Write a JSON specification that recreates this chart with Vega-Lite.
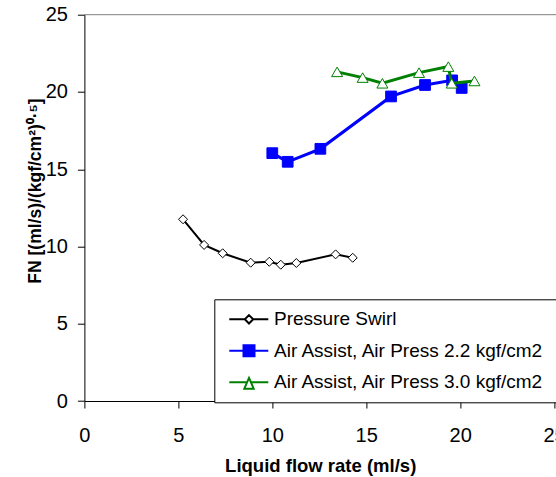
{
  "$schema": "https://vega.github.io/schema/vega-lite/v6.json",
  "width": 471.6,
  "height": 386.3,
  "autosize": {"type": "none"},
  "padding": {"left": 84.4, "top": 14.7, "right": 0, "bottom": 76},
  "background": "white",
  "config": {"view": {"stroke": null}, "font": "Liberation Sans"},
  "data": {
    "values": [
      {"series": "Pressure Swirl", "flow": 5.25, "fn": 11.76},
      {"series": "Pressure Swirl", "flow": 6.37, "fn": 10.10},
      {"series": "Pressure Swirl", "flow": 7.36, "fn": 9.56},
      {"series": "Pressure Swirl", "flow": 8.85, "fn": 8.95},
      {"series": "Pressure Swirl", "flow": 9.84, "fn": 9.01},
      {"series": "Pressure Swirl", "flow": 10.45, "fn": 8.82},
      {"series": "Pressure Swirl", "flow": 11.28, "fn": 8.93},
      {"series": "Pressure Swirl", "flow": 13.37, "fn": 9.49},
      {"series": "Pressure Swirl", "flow": 14.28, "fn": 9.27},
      {"series": "Air Assist, Air Press 2.2 kgf/cm2", "flow": 10.00, "fn": 16.04},
      {"series": "Air Assist, Air Press 2.2 kgf/cm2", "flow": 10.82, "fn": 15.48},
      {"series": "Air Assist, Air Press 2.2 kgf/cm2", "flow": 12.56, "fn": 16.32},
      {"series": "Air Assist, Air Press 2.2 kgf/cm2", "flow": 16.32, "fn": 19.71},
      {"series": "Air Assist, Air Press 2.2 kgf/cm2", "flow": 18.13, "fn": 20.45},
      {"series": "Air Assist, Air Press 2.2 kgf/cm2", "flow": 19.57, "fn": 20.75},
      {"series": "Air Assist, Air Press 2.2 kgf/cm2", "flow": 20.08, "fn": 20.26},
      {"series": "Air Assist, Air Press 3.0 kgf/cm2", "flow": 13.45, "fn": 21.30},
      {"series": "Air Assist, Air Press 3.0 kgf/cm2", "flow": 14.81, "fn": 20.93},
      {"series": "Air Assist, Air Press 3.0 kgf/cm2", "flow": 15.86, "fn": 20.56},
      {"series": "Air Assist, Air Press 3.0 kgf/cm2", "flow": 17.81, "fn": 21.25},
      {"series": "Air Assist, Air Press 3.0 kgf/cm2", "flow": 19.37, "fn": 21.64},
      {"series": "Air Assist, Air Press 3.0 kgf/cm2", "flow": 19.55, "fn": 20.56},
      {"series": "Air Assist, Air Press 3.0 kgf/cm2", "flow": 20.76, "fn": 20.71}
    ]
  },
  "layer": [
    {
      "data": {"values": [{"top": 25}]},
      "mark": {"type": "rule", "color": "#808080", "strokeWidth": 1},
      "encoding": {
        "y": {"field": "top", "type": "quantitative", "scale": {"domain": [0, 25], "nice": false}}
      }
    },
    {
      "encoding": {
        "x": {
          "field": "flow",
          "type": "quantitative",
          "scale": {"domain": [0, 25.1], "nice": false},
          "axis": {
            "title": "Liquid flow rate (ml/s)",
            "values": [0, 5, 10, 15, 20, 25],
            "grid": false,
            "domainColor": "black",
            "tickColor": "black",
            "tickSize": 7,
            "labelFont": "Liberation Sans",
            "labelFontSize": 20,
            "labelColor": "black",
            "labelBaseline": "alphabetic",
            "labelPadding": 33,
            "labelFlush": false,
            "labelOverlap": false,
            "titleFont": "Liberation Sans",
            "titleFontSize": 18.5,
            "titleFontWeight": "bold",
            "titleColor": "black",
            "titleBaseline": "alphabetic",
            "titleY": 70.5
          }
        },
        "y": {
          "field": "fn",
          "type": "quantitative",
          "scale": {"domain": [0, 25], "nice": false},
          "axis": {
            "title": "FN [(ml/s)/(kgf/cm²)⁰·⁵]",
            "values": [0, 5, 10, 15, 20, 25],
            "grid": false,
            "domainColor": "black",
            "tickColor": "black",
            "tickSize": 7,
            "labelFont": "Liberation Sans",
            "labelFontSize": 20,
            "labelColor": "black",
            "labelBaseline": "middle",
            "labelPadding": 10,
            "titleFont": "Liberation Sans",
            "titleFontSize": 17.5,
            "titleFontWeight": "bold",
            "titleColor": "black",
            "titleAngle": -90,
            "titleAlign": "center",
            "titleBaseline": "alphabetic",
            "titleX": -44.4,
            "titleY": 175.8
          }
        }
      },
      "layer": [
        {
          "transform": [{"filter": "datum.series === 'Pressure Swirl'"}],
          "mark": {"type": "line", "strokeWidth": 2},
          "encoding": {
            "stroke": {
              "field": "series",
              "type": "nominal",
              "scale": {
                "domain": ["Pressure Swirl", "Air Assist, Air Press 2.2 kgf/cm2", "Air Assist, Air Press 3.0 kgf/cm2"],
                "range": ["#000000", "#0000FF", "#008000"]
              }
            }
          }
        },
        {
          "transform": [{"filter": "datum.series === 'Pressure Swirl'"}],
          "mark": {"type": "point", "shape": "diamond", "size": 81, "filled": true, "fill": "#FFFFFF", "stroke": "#000000", "strokeWidth": 1, "opacity": 1}
        },
        {
          "transform": [{"filter": "datum.series === 'Air Assist, Air Press 2.2 kgf/cm2'"}],
          "mark": {"type": "line", "strokeWidth": 3},
          "encoding": {"stroke": {"field": "series", "type": "nominal"}}
        },
        {
          "transform": [{"filter": "datum.series === 'Air Assist, Air Press 2.2 kgf/cm2'"}],
          "mark": {"type": "point", "shape": "square", "size": 115, "filled": true, "fill": "#0000FF", "stroke": "#0000FF", "strokeWidth": 1, "opacity": 1}
        },
        {
          "transform": [{"filter": "datum.series === 'Air Assist, Air Press 3.0 kgf/cm2'"}],
          "mark": {"type": "line", "strokeWidth": 3},
          "encoding": {"stroke": {"field": "series", "type": "nominal"}}
        },
        {
          "transform": [{"filter": "datum.series === 'Air Assist, Air Press 3.0 kgf/cm2'"}],
          "mark": {"type": "point", "shape": "triangle-up", "size": 121, "filled": true, "fill": "#FFFFFF", "stroke": "#008000", "strokeWidth": 1, "opacity": 1}
        },
        {
          "mark": {"type": "point", "opacity": 0, "size": 1},
          "encoding": {
            "shape": {
              "field": "series",
              "type": "nominal",
              "scale": {
                "domain": ["Pressure Swirl", "Air Assist, Air Press 2.2 kgf/cm2", "Air Assist, Air Press 3.0 kgf/cm2"],
                "range": [
                  "M-0.5,0H1.05M1.89,0H3.4M1.47,-0.42L1.89,0L1.47,0.42L1.05,0ZM36,0",
                  "M-0.5,0H3.4M0.92,-0.55H2.02V0.55H0.92ZM0.92,-0.4H2.02M0.92,-0.2H2.02M0.92,0.2H2.02M0.92,0.4H2.02M36,0",
                  "M-0.5,0H1.28M1.66,0H3.4M1.47,-0.44L1.94,0.64H1.0ZM36,0"
                ]
              },
              "legend": {
                "title": null,
                "orient": "none",
                "legendX": 129.9,
                "legendY": 284.6,
                "padding": 9,
                "strokeColor": "black",
                "fillColor": "white",
                "symbolSize": 400,
                "symbolStrokeWidth": 2,
                "symbolOpacity": 1,
                "labelFont": "Liberation Sans",
                "labelFontSize": 19,
                "labelColor": "black",
                "labelOffset": 28.7,
                "labelLimit": 500,
                "rowPadding": 10.5
              }
            },
            "stroke": {"field": "series", "type": "nominal"}
          }
        }
      ]
    }
  ]
}
